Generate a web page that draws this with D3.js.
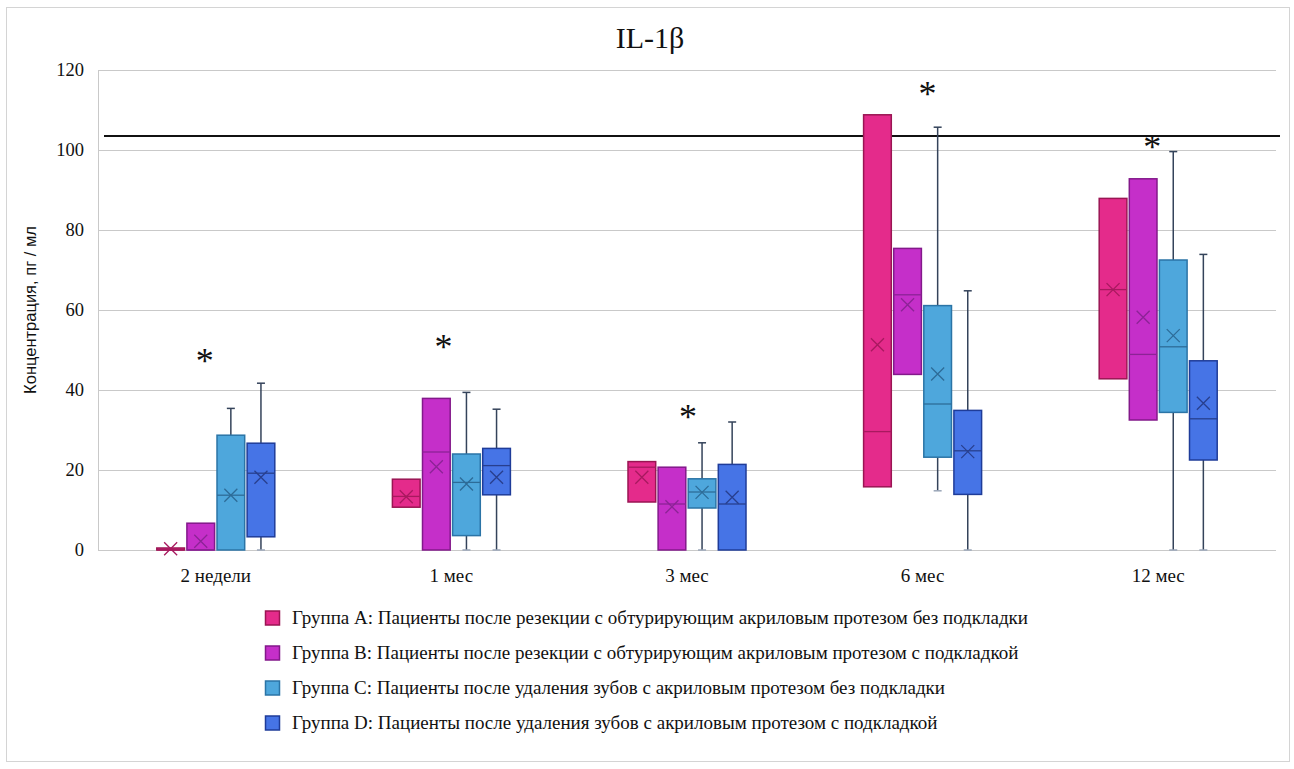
<html>
<head>
    <meta charset="utf-8">
    <script type="text/javascript" src="https://cdn.jsdelivr.net/npm/d3@7/dist/d3.min.js"></script>
    <style>
        body { margin: 0; background: #ffffff; }
        .serif { font-family: 'Liberation Serif', 'Times New Roman', serif; fill: #111111; }
        .sans { font-family: 'Liberation Sans', Arial, sans-serif; fill: #111111; }
    </style>
</head>
<body>
    <svg id="chart" width="1294" height="769"></svg>

    <script type="text/javascript">
        // time points and groups
        var periods = ["2 недели", "1 мес", "3 мес", "6 мес", "12 мес"];
        var groups = ["A", "B", "C", "D"];
        var legendLabels = [
            "Группа A: Пациенты после резекции с обтурирующим акриловым протезом без подкладки",
            "Группа B: Пациенты после резекции с обтурирующим акриловым протезом с подкладкой",
            "Группа C: Пациенты после удаления зубов с акриловым протезом без подкладки",
            "Группа D: Пациенты после удаления зубов с акриловым протезом с подкладкой"
        ];
        var yTicks = [0, 20, 40, 60, 80, 100, 120];

        // box stats, one row per group (A, B, C, D), one value per period
        var whiskerLow = [
            [0, 10.7, 12, 15.8, 42.8],
            [0, 0, 0, 43.9, 32.5],
            [0, 0, 0, 14.8, 0],
            [0, 0, 0, 0, 0]
        ];
        var q1 = [
            [0, 10.7, 12, 15.8, 42.8],
            [0, 0, 0, 43.9, 32.5],
            [0, 3.6, 10.5, 23.2, 34.4],
            [3.3, 13.8, 0, 13.9, 22.5]
        ];
        var median = [
            [0, 13.4, 20.7, 29.6, 65.1],
            [0, 24.5, 11.5, 63.8, 48.9],
            [13.7, 16.9, 14.5, 36.5, 50.8],
            [19.2, 21.1, 11.5, 24.8, 32.8]
        ];
        var q3 = [
            [0.5, 17.7, 22.1, 108.8, 87.9],
            [6.7, 37.9, 20.7, 75.4, 92.8],
            [28.7, 24, 17.8, 61.1, 72.5],
            [26.7, 25.4, 21.4, 34.9, 47.3]
        ];
        var whiskerHigh = [
            [0.5, 17.7, 22.1, 108.8, 87.9],
            [6.7, 37.9, 20.7, 75.4, 92.8],
            [35.4, 39.4, 26.8, 105.7, 99.6],
            [41.7, 35.2, 32, 64.8, 73.9]
        ];
        var mean = [
            [0.3, 13.3, 18.2, 51.3, 65.1],
            [2.2, 20.8, 10.8, 61.3, 58.2],
            [13.7, 16.5, 14.4, 44, 53.6],
            [18.2, 18.2, 13.2, 24.6, 36.7]
        ];

        // significance marks (height of the star) and reference level
        var starValues = [48.5, 52, 34.6, 115.3, 102];
        var refLevel = 103.5;

        var fillColors = ["#e42b8b", "#c52fc9", "#4ea7dc", "#4674e6"];
        var strokeColors = ["#9a1553", "#83198a", "#2b74a6", "#1f3c99"];
        var innerColors = ["#a8195f", "#8c2396", "#2d6c98", "#283f8e"];
        var whiskerColor = "#34435a";

        function drawChart() {
            var svg = d3.select("#chart");
            var left = 98, right = 1276, top = 70, bottom = 550;

            // frame around the whole picture
            svg.append("rect")
                .attr("x", 6.5).attr("y", 7.5)
                .attr("width", 1283).attr("height", 754)
                .attr("fill", "#ffffff")
                .attr("stroke", "#d4d4d4");

            var y = d3.scaleLinear().domain([0, 120]).range([bottom, top]);
            var x = d3.scaleBand().domain(periods).range([left, right]);
            var xg = d3.scaleBand().domain(groups).range([0, 118]).paddingInner(0.08);

            // gridlines
            svg.append("g").selectAll("line")
                .data(yTicks)
                .enter().append("line")
                .attr("x1", left).attr("x2", right)
                .attr("y1", function(d) { return Math.round(y(d)) + 0.5; })
                .attr("y2", function(d) { return Math.round(y(d)) + 0.5; })
                .attr("stroke", "#c9c9c9")
                .attr("stroke-width", 1.2);

            svg.append("line")
                .attr("x1", left + 0.5).attr("x2", left + 0.5)
                .attr("y1", top).attr("y2", bottom)
                .attr("stroke", "#c9c9c9");

            // y tick labels
            svg.append("g").selectAll("text")
                .data(yTicks)
                .enter().append("text")
                .attr("class", "serif")
                .attr("x", 84)
                .attr("y", function(d) { return y(d) + 6; })
                .attr("text-anchor", "end")
                .style("font-size", "18.5px")
                .text(function(d) { return d; });

            // y axis title
            svg.append("text")
                .attr("class", "sans")
                .attr("transform", "translate(36," + ((top + bottom) / 2) + ") rotate(-90)")
                .attr("text-anchor", "middle")
                .style("font-size", "16.5px")
                .text("Концентрация, пг / мл");

            // x labels
            svg.append("g").selectAll("text")
                .data(periods)
                .enter().append("text")
                .attr("class", "serif")
                .attr("x", function(d) { return x(d) + x.bandwidth() / 2; })
                .attr("y", 582)
                .attr("text-anchor", "middle")
                .style("font-size", "19px")
                .text(function(d) { return d; });

            // title
            svg.append("text")
                .attr("class", "serif")
                .attr("x", 650).attr("y", 48)
                .attr("text-anchor", "middle")
                .style("font-size", "30px")
                .text("IL-1β");

            // reference line
            svg.append("line")
                .attr("x1", 104).attr("x2", 1280)
                .attr("y1", y(refLevel)).attr("y2", y(refLevel))
                .attr("stroke", "#111111")
                .attr("stroke-width", 2);

            var bw = xg.bandwidth();

            groups.forEach(function(g, gi) {
                var layer = svg.append("g");
                var boxes = layer.selectAll("g.box")
                    .data(periods)
                    .enter().append("g")
                    .attr("class", "box")
                    .attr("transform", function(p) {
                        return "translate(" + (x(p) + x.bandwidth() / 2 - 59 + xg(g)) + ",0)";
                    });

                // whiskers
                boxes.append("line")
                    .attr("x1", bw / 2).attr("x2", bw / 2)
                    .attr("y1", function(p, i) { return y(whiskerHigh[gi][i]); })
                    .attr("y2", function(p, i) { return y(q3[gi][i]); })
                    .attr("stroke", whiskerColor).attr("stroke-width", 1.5);
                boxes.append("line")
                    .attr("x1", bw / 2).attr("x2", bw / 2)
                    .attr("y1", function(p, i) { return y(q1[gi][i]); })
                    .attr("y2", function(p, i) { return y(whiskerLow[gi][i]); })
                    .attr("stroke", whiskerColor).attr("stroke-width", 1.5);
                // caps
                boxes.filter(function(p, i) { return whiskerHigh[gi][i] > q3[gi][i]; })
                    .append("line")
                    .attr("x1", bw / 2 - 4).attr("x2", bw / 2 + 4)
                    .attr("y1", function(p) { return y(whiskerHigh[gi][periods.indexOf(p)]); })
                    .attr("y2", function(p) { return y(whiskerHigh[gi][periods.indexOf(p)]); })
                    .attr("stroke", whiskerColor).attr("stroke-width", 1.5);
                boxes.filter(function(p, i) { return whiskerLow[gi][i] < q1[gi][i]; })
                    .append("line")
                    .attr("x1", bw / 2 - 4).attr("x2", bw / 2 + 4)
                    .attr("y1", function(p) { return y(whiskerLow[gi][periods.indexOf(p)]); })
                    .attr("y2", function(p) { return y(whiskerLow[gi][periods.indexOf(p)]); })
                    .attr("stroke", "#9aa6b8").attr("stroke-width", 1.5);

                // box body
                boxes.append("rect")
                    .attr("x", 0).attr("width", bw)
                    .attr("y", function(p, i) { return y(q3[gi][i]); })
                    .attr("height", function(p, i) { return Math.max(1, y(q1[gi][i]) - y(q3[gi][i])); })
                    .attr("fill", fillColors[gi])
                    .attr("stroke", strokeColors[gi])
                    .attr("stroke-width", 1.5);

                // median
                boxes.append("line")
                    .attr("x1", 0).attr("x2", bw)
                    .attr("y1", function(p, i) { return y(median[gi][i]); })
                    .attr("y2", function(p, i) { return y(median[gi][i]); })
                    .attr("stroke", innerColors[gi]).attr("stroke-width", 1.3);

                // mean marker (x)
                var s = 6.5;
                boxes.append("path")
                    .attr("d", function(p, i) {
                        var cx = bw / 2, cy = y(mean[gi][i]);
                        return "M" + (cx - s) + "," + (cy - s) + "L" + (cx + s) + "," + (cy + s) +
                               "M" + (cx - s) + "," + (cy + s) + "L" + (cx + s) + "," + (cy - s);
                    })
                    .attr("stroke", innerColors[gi])
                    .attr("stroke-width", 1.3)
                    .attr("fill", "none");
            });

            // asterisks
            var starShift = [-11, -8, 1, 5, -6];
            svg.append("g").selectAll("text")
                .data(periods)
                .enter().append("text")
                .attr("class", "serif")
                .attr("x", function(p, i) { return x(p) + x.bandwidth() / 2 + starShift[i]; })
                .attr("y", function(p, i) { return y(starValues[i]) + 17; })
                .attr("text-anchor", "middle")
                .style("font-size", "36px")
                .text("*");

            // legend
            var legend = svg.append("g").selectAll("g")
                .data(legendLabels)
                .enter().append("g")
                .attr("transform", function(d, i) { return "translate(265," + (618 + i * 35) + ")"; });
            legend.append("rect")
                .attr("x", 0.5).attr("y", -7)
                .attr("width", 14).attr("height", 14)
                .attr("fill", function(d, i) { return fillColors[i]; })
                .attr("stroke", function(d, i) { return strokeColors[i]; })
                .attr("stroke-width", 1.5);
            legend.append("text")
                .attr("class", "serif")
                .attr("x", 27).attr("y", 6)
                .style("font-size", "19px")
                .text(function(d) { return d; });
        }

        drawChart();
    </script>
</body>
</html>
